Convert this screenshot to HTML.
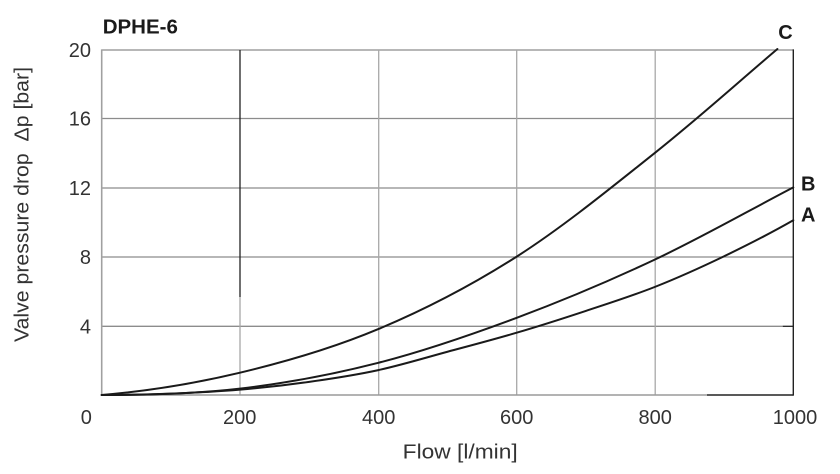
<!DOCTYPE html>
<html>
<head>
<meta charset="utf-8">
<style>
  html,body{margin:0;padding:0;background:#fff;}
  svg{display:block;}
  text{font-family:"Liberation Sans",Arial,sans-serif;}
</style>
</head>
<body>
<svg width="840" height="474" viewBox="0 0 840 474" xmlns="http://www.w3.org/2000/svg">
  <rect x="0" y="0" width="840" height="474" fill="#fff"/>

  <!-- horizontal grid -->
  <g stroke="#8c8c8c" stroke-width="1.3" fill="none">
    <line x1="101.7" y1="50" x2="793.3" y2="50"/>
    <line x1="101.7" y1="118.5" x2="793.3" y2="118.5"/>
    <line x1="101.7" y1="188" x2="793.3" y2="188"/>
    <line x1="101.7" y1="257" x2="793.3" y2="257"/>
    <line x1="101.7" y1="326.3" x2="782.7" y2="326.3"/>
  </g>
  <line x1="782.7" y1="326.3" x2="793.3" y2="326.3" stroke="#222" stroke-width="1.3"/>
  <!-- vertical grid -->
  <g stroke="#a8a8a8" stroke-width="1.3" fill="none">
    <line x1="240" y1="297" x2="240" y2="395"/>
    <line x1="378.7" y1="50" x2="378.7" y2="395"/>
    <line x1="516.7" y1="50" x2="516.7" y2="395"/>
    <line x1="655.2" y1="50" x2="655.2" y2="395"/>
  </g>
  <line x1="240" y1="50" x2="240" y2="297" stroke="#222" stroke-width="1.3"/>
  <!-- axes -->
  <line x1="101.7" y1="49.4" x2="101.7" y2="395.6" stroke="#a0a0a0" stroke-width="1.6"/>
  <line x1="101.7" y1="395" x2="707" y2="395" stroke="#9a9a9a" stroke-width="1.5"/>
  <line x1="707" y1="395" x2="793.3" y2="395" stroke="#222" stroke-width="1.5"/>
  <line x1="793.3" y1="49.4" x2="793.3" y2="395.6" stroke="#222" stroke-width="1.4"/>

  <!-- curves -->
  <g fill="none" stroke="#1a1a1a" stroke-width="2" stroke-linecap="round">
    <!-- C -->
    <path d="M101.7,395 C147.8,391.1 193.9,383.7 240,372.7 C286.1,361.7 332.2,348.45 378.3,329.1 C424.4,309.75 470.6,285.98 516.7,256.6 C562.8,227.2 611.55,187.4 655,152.8 C698.45,118.2 736.6,83.6 777.4,49"/>
    <!-- B -->
    <path d="M101.7,395 C147.8,395 193.9,393.97 240,388.6 C286.1,383.2 332.2,374.6 378.3,362.8 C424.4,351 470.6,335 516.7,317.8 C562.8,300.6 608.9,281.2 655,259.5 C701.1,237.8 747.2,211.4 793.3,187.4"/>
    <!-- A -->
    <path d="M101.7,395 C124.75,395 147.81,394.51 170.86,393.62 C193.91,392.73 216.97,391.6 240.02,389.64 C263.07,387.68 286.13,385.11 309.18,381.85 C332.23,378.59 355.29,375.11 378.34,370.09 C401.39,365.07 424.45,357.98 447.5,351.75 C470.55,345.52 493.61,339.53 516.66,332.72 C539.71,325.92 562.77,318.56 585.82,310.92 C608.87,303.28 631.93,295.99 654.98,286.88 C678.03,277.77 701.09,267.35 724.14,256.25 C747.19,245.15 770.25,233.44 793.3,220.27"/>
  </g>

  <!-- title -->
  <text x="102.7" y="33.3" font-size="20.5" font-weight="bold" fill="#1a1a1a">DPHE-6</text>

  <!-- curve labels -->
  <text x="778.3" y="39" font-size="20" font-weight="bold" fill="#1a1a1a">C</text>
  <text x="801" y="190.7" font-size="20" font-weight="bold" fill="#1a1a1a">B</text>
  <text x="801" y="221.7" font-size="20" font-weight="bold" fill="#1a1a1a">A</text>

  <!-- y tick labels -->
  <g font-size="20" fill="#333" text-anchor="end">
    <text x="91" y="57.2">20</text>
    <text x="91" y="125.7">16</text>
    <text x="91" y="195.2">12</text>
    <text x="91" y="264.2">8</text>
    <text x="91" y="333.5">4</text>
  </g>
  <!-- x tick labels -->
  <g font-size="20" fill="#333" text-anchor="middle">
    <text x="86.3" y="424">0</text>
    <text x="239.7" y="424">200</text>
    <text x="378.7" y="424">400</text>
    <text x="516.7" y="424">600</text>
    <text x="655.2" y="424">800</text>
    <text x="795" y="424">1000</text>
  </g>

  <!-- axis titles -->
  <text x="402.7" y="458.5" font-size="20.5" fill="#333" textLength="115" lengthAdjust="spacingAndGlyphs">Flow [l/min]</text>
  <text transform="translate(28.7,342) rotate(-90)" x="0" y="0" font-size="20.5" fill="#333" textLength="275" lengthAdjust="spacingAndGlyphs">Valve pressure drop&#160;&#160;Δp [bar]</text>
</svg>
</body>
</html>
